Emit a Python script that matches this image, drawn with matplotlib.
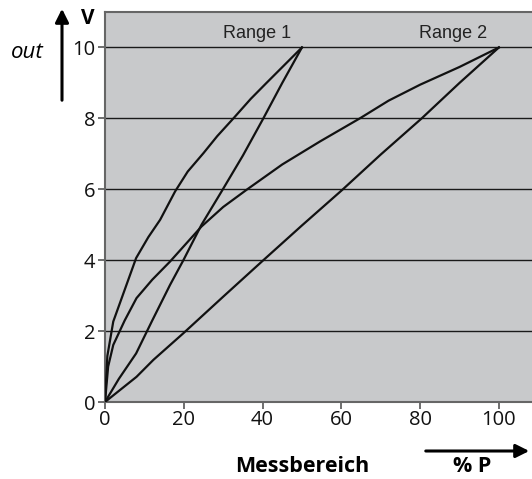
import matplotlib
matplotlib.use("Agg")
import matplotlib.pyplot as plt

# Data (x in % P, y in V)
r1_upper_x = [0, 0.6, 2.1, 7.9, 11, 14, 17.8, 21, 25, 28.5, 32.6, 37, 41, 45.5, 50]
r1_upper_y = [0, 1.3, 2.27, 4.06, 4.65, 5.14, 5.94, 6.5, 7.02, 7.5, 8.0, 8.55, 9.0, 9.5, 10]
r1_lower_x = [0, 3.5, 7.9, 12, 16.5, 19.9, 24.5, 29.6, 35, 40.2, 45, 50]
r1_lower_y = [0, 0.65, 1.37, 2.3, 3.3, 4.0, 5.0, 5.94, 6.95, 8.0, 9.0, 10]
r2_upper_x = [0, 0.8, 2.1, 5, 8.0, 12, 16.5, 24.5, 30, 36, 45, 54.6, 64.7, 72, 80, 90, 100]
r2_upper_y = [0, 1.0, 1.61, 2.3, 2.93, 3.45, 3.96, 4.95, 5.5, 5.99, 6.7, 7.35, 8.0, 8.5, 8.95, 9.45, 10]
r2_lower_x = [0, 8.0, 12.3, 19.9, 30, 40.2, 50, 60.1, 70, 80.4, 90, 100]
r2_lower_y = [0, 0.71, 1.19, 1.94, 2.97, 4.0, 4.98, 5.97, 6.98, 8.0, 9.0, 10]
x_ticks = [0, 20, 40, 60, 80, 100]
y_ticks = [0, 2, 4, 6, 8, 10]
range_labels = ["Range 1", "Range 2"]
range_label_x = [38.6, 88.3]

W, H = 532, 479
fig = plt.figure(figsize=(W / 100, H / 100), dpi=100)
ax = fig.add_axes([105 / W, 1 - 402 / H, 1 - 105 / W, (402 - 12) / H])
ax.set_facecolor("#c8c9cb")
ax.set_xlim(0, 108.4)
ax.set_ylim(0, 11.0)

for yv in y_ticks[1:]:
    ax.axhline(yv, color="#1a1a1a", lw=1.0, zorder=1)

for xs, ys in [(r1_upper_x, r1_upper_y), (r1_lower_x, r1_lower_y),
               (r2_upper_x, r2_upper_y), (r2_lower_x, r2_lower_y)]:
    ax.plot(xs, ys, color="#111111", lw=1.6, zorder=3, solid_joinstyle="round")

for lab, lx in zip(range_labels, range_label_x):
    ax.text(lx, 10.4, lab, ha="center", va="center", fontsize=13,
            family="Liberation Sans", color="#222222")

ax.set_xticks(x_ticks)
ax.set_yticks(y_ticks)
ax.tick_params(axis="both", colors="#555555", labelcolor="#111111",
               labelsize=14.5, length=5, width=1.2, direction="out")
for lbl in ax.get_xticklabels() + ax.get_yticklabels():
    lbl.set_family("Open Sans")
ax.tick_params(axis="x", pad=1)
ax.tick_params(axis="y", pad=2)
for side in ["left", "bottom", "top"]:
    ax.spines[side].set_color("#666666")
    ax.spines[side].set_linewidth(1.5)
ax.spines["right"].set_visible(False)

# Axis annotations
fig.text(88 / W, 1 - 18 / H, "V", ha="center", va="center", fontsize=15,
         fontweight="bold", family="Open Sans")
fig.text(27 / W, 1 - 53 / H, "out", ha="center", va="center", fontsize=16,
         style="italic", family="Open Sans")
fig.text(302 / W, 1 - 466 / H, "Messbereich", ha="center", va="center",
         fontsize=15.5, fontweight="bold", family="Open Sans")
fig.text(472 / W, 1 - 466 / H, "% P", ha="center", va="center",
         fontsize=15.5, fontweight="bold", family="Open Sans")
fig.patches.append(matplotlib.patches.FancyArrowPatch(
    (62, H - 103), (62, H - 6), transform=None, arrowstyle="-|>,head_length=8,head_width=4",
    color="black", lw=2.2, mutation_scale=1))
fig.patches.append(matplotlib.patches.FancyArrowPatch(
    (423, H - 451), (532, H - 451), transform=None, arrowstyle="-|>,head_length=8,head_width=4",
    color="black", lw=2.2, mutation_scale=1))

fig.savefig("out.png", dpi=100)
